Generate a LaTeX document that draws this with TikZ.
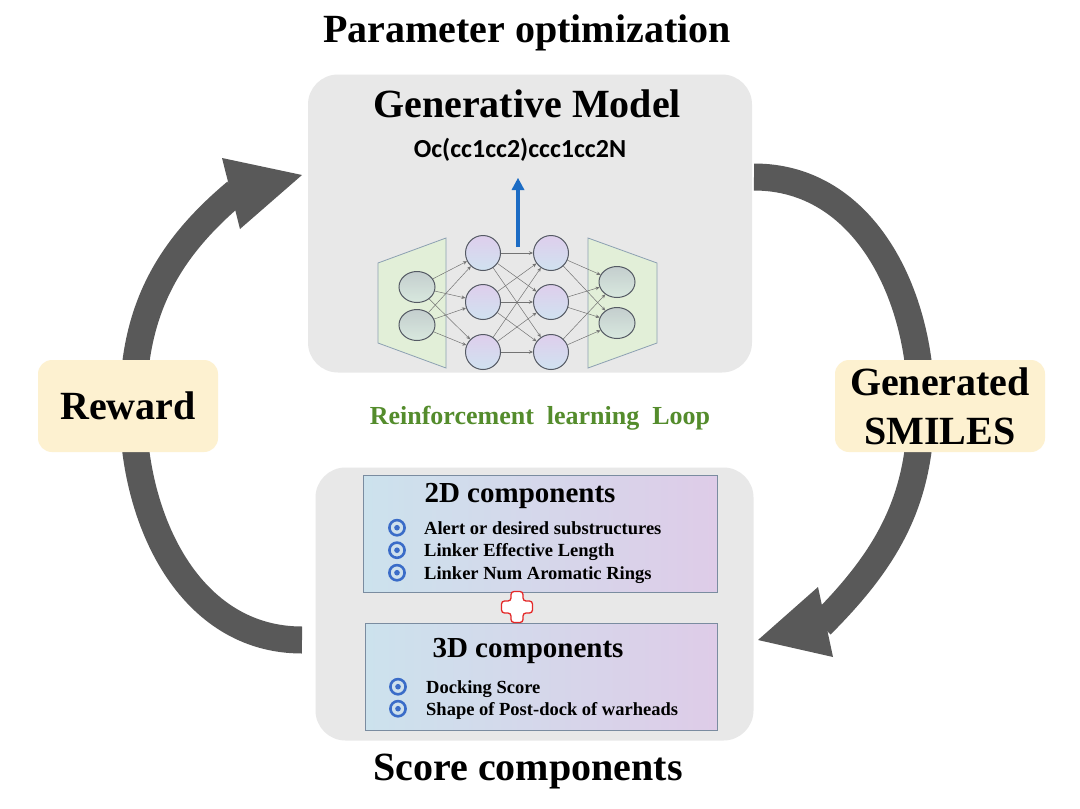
\documentclass[tikz,border=0pt]{standalone}
\usepackage{fontspec}
\setmainfont{Liberation Serif}
\newfontfamily\smilesfont{Carlito}
\usetikzlibrary{arrows.meta,shapes.geometric}
\definecolor{boxgray}{RGB}{232,232,232}
\definecolor{loopgray}{RGB}{89,89,89}
\definecolor{tagfill}{RGB}{253,241,208}
\definecolor{rlgreen}{RGB}{84,140,44}
\definecolor{smilesblue}{RGB}{28,108,196}
\definecolor{compblue}{RGB}{204,226,237}
\definecolor{complav}{RGB}{222,204,232}
\definecolor{compedge}{RGB}{122,140,160}
\definecolor{bulletblue}{RGB}{58,108,200}
\definecolor{trapgreen}{RGB}{226,239,216}
\definecolor{trapedge}{RGB}{140,160,178}
\definecolor{hidlav}{RGB}{222,206,236}
\definecolor{hidblue}{RGB}{208,226,240}
\definecolor{iogray}{RGB}{196,206,206}
\definecolor{iogreen}{RGB}{216,232,222}
\definecolor{nnedge}{RGB}{85,90,100}
\definecolor{plusred}{RGB}{228,40,40}

\begin{document}
\begin{tikzpicture}[x=1pt,y=1pt,
	panel/.style={fill=boxgray,rounded corners=30pt,inner sep=0pt},
	tag/.style={fill=tagfill,rounded corners=14pt,inner sep=0pt,minimum height=92pt,align=center,font=\bfseries\fontsize{40}{49}\selectfont},
	heading/.style={font=\bfseries\fontsize{40}{48}\selectfont,anchor=base},
	loopline/.style={draw=loopgray,line width=27pt},
	loophead/.style={fill=loopgray},
	compbox/.style={draw=compedge,line width=0.8pt,left color=compblue,right color=complav,inner sep=0pt},
	comptitle/.style={font=\bfseries\fontsize{29}{34}\selectfont,anchor=base},
	item/.style={font=\bfseries\fontsize{18.5}{22}\selectfont,anchor=base west,inner sep=0pt},
	hidden/.style={circle,draw=nnedge,line width=1pt,minimum size=35pt,inner sep=0pt,top color=hidlav,bottom color=hidblue},
	io/.style={ellipse,draw=nnedge,line width=1pt,minimum width=36pt,minimum height=31pt,inner sep=0pt,top color=iogray,bottom color=iogreen},
	wire/.style={draw=gray!90!black,line width=0.5pt,-{Stealth[length=4pt,width=3.5pt]}}
]
	\path[use as bounding box,fill=white] (0,0) rectangle (1080,-809);

	\node[panel,minimum width=444pt,minimum height=298pt] (gen) at (530,-223.5) {};
	\node[panel,minimum width=438pt,minimum height=273pt] (score) at (534.5,-604) {};

	\node[heading] (paramopt) at (527,-42) {Parameter optimization};
	\node[heading] (genlbl) at (527,-117) {Generative Model};
	\node[font=\smilesfont\bfseries\fontsize{26}{30}\selectfont,anchor=base] (smi) at (520,-157) {Oc(cc1cc2)ccc1cc2N};
	\node[heading] (scorelbl) at (528,-780) {Score components};
	\node[font=\bfseries\fontsize{26}{30}\selectfont,text=rlgreen,anchor=base] (rl) at (540,-424) {Reinforcement\ \ learning\ \ Loop};

	\draw[fill=trapgreen,draw=trapedge,line width=0.8pt] (378,-263) -- (446,-238) -- (446,-368) -- (378,-343) -- cycle;
	\draw[fill=trapgreen,draw=trapedge,line width=0.8pt] (588,-238) -- (657,-263) -- (657,-343) -- (588,-368) -- cycle;
	\node[io] (in1) at (417,-287) {};
	\node[io] (in2) at (417,-325) {};
	\foreach \i/\y in {1/253,2/302,3/352}{
		\node[hidden] (ha\i) at (483,-\y) {};
		\node[hidden] (hb\i) at (551,-\y) {};
	}
	\node[io] (out1) at (617,-282) {};
	\node[io] (out2) at (617,-323) {};
	\foreach \a in {1,2}
		\foreach \b in {1,2,3}
			\draw[wire] (in\a) -- (ha\b);
	\foreach \a in {1,2,3}
		\foreach \b in {1,2,3}
			\draw[wire] (ha\a) -- (hb\b);
	\foreach \a in {1,2,3}
		\foreach \b in {1,2}
			\draw[wire] (hb\a) -- (out\b);
	\coordinate (nntop) at (518,-247);
	\coordinate (nnout) at (518,-178);
	\draw[smilesblue,line width=4pt,-{Triangle[length=12pt,width=13pt,line width=0pt]}] (nntop) -- (nnout);

	\node[compbox,minimum width=354pt,minimum height=117pt] (comp2d) at (540,-533.5) {};
	\node[compbox,minimum width=352pt,minimum height=107pt] (comp3d) at (541,-676.5) {};
	\node[comptitle] (title2d) at (520,-502) {2D components};
	\node[comptitle] (title3d) at (528,-657) {3D components};
	\foreach \y/\t [count=\n] in {534/Alert or desired substructures,556.5/Linker Effective Length,579/Linker Num Aromatic Rings}{
		\draw[bulletblue,line width=2.6pt] (397,-\y+6.3) circle (7.6);
		\fill[bulletblue] (397,-\y+6.3) circle (2.8);
		\node[item] (twod\n) at (424,-\y) {\t};
	}
	\foreach \y/\t [count=\n] in {693/Docking Score,715/Shape of Post-dock of warheads}{
		\draw[bulletblue,line width=2.6pt] (398,-\y+6.3) circle (7.6);
		\fill[bulletblue] (398,-\y+6.3) circle (2.8);
		\node[item] (threed\n) at (426,-\y) {\t};
	}
	\draw[plusred,fill=white,line width=1.3pt,rounded corners=3pt] (511,-591.5) -- (523,-591.5) -- (523,-601) -- (532.5,-601) -- (532.5,-613) -- (523,-613) -- (523,-622.5) -- (511,-622.5) -- (511,-613) -- (501.5,-613) -- (501.5,-601) -- (511,-601) -- cycle;

	\coordinate (ltail) at (302,-640);
	\coordinate (lside) at (133,-408);
	\coordinate (lbase) at (236,-192);
	\coordinate (lcorner1) at (222,-158);
	\coordinate (lcorner2) at (240,-229);
	\coordinate (ltip) at (302,-175);
	\coordinate (rtail) at (754,-177);
	\coordinate (rside) at (921,-405);
	\coordinate (rbase) at (821,-625);
	\coordinate (rcorner1) at (818,-587);
	\coordinate (rcorner2) at (833,-657);
	\coordinate (rtip) at (758,-640);
	\draw[loopline] (ltail) to[out=180,in=270] (lside) to[out=90,in=220] (lbase);
	\fill[loophead] (lcorner1) -- (ltip) -- (lcorner2) -- cycle;
	\draw[loopline] (rtail) to[out=0,in=90] (rside) to[out=270,in=45] (rbase);
	\fill[loophead] (rcorner1) -- (rtip) -- (rcorner2) -- cycle;

	\node[tag,minimum width=180pt] (reward) at (128,-406) {Reward};
	\node[tag,minimum width=210pt] (gensmiles) at (940,-406) {Generated\\SMILES};
\end{tikzpicture}
\end{document}
